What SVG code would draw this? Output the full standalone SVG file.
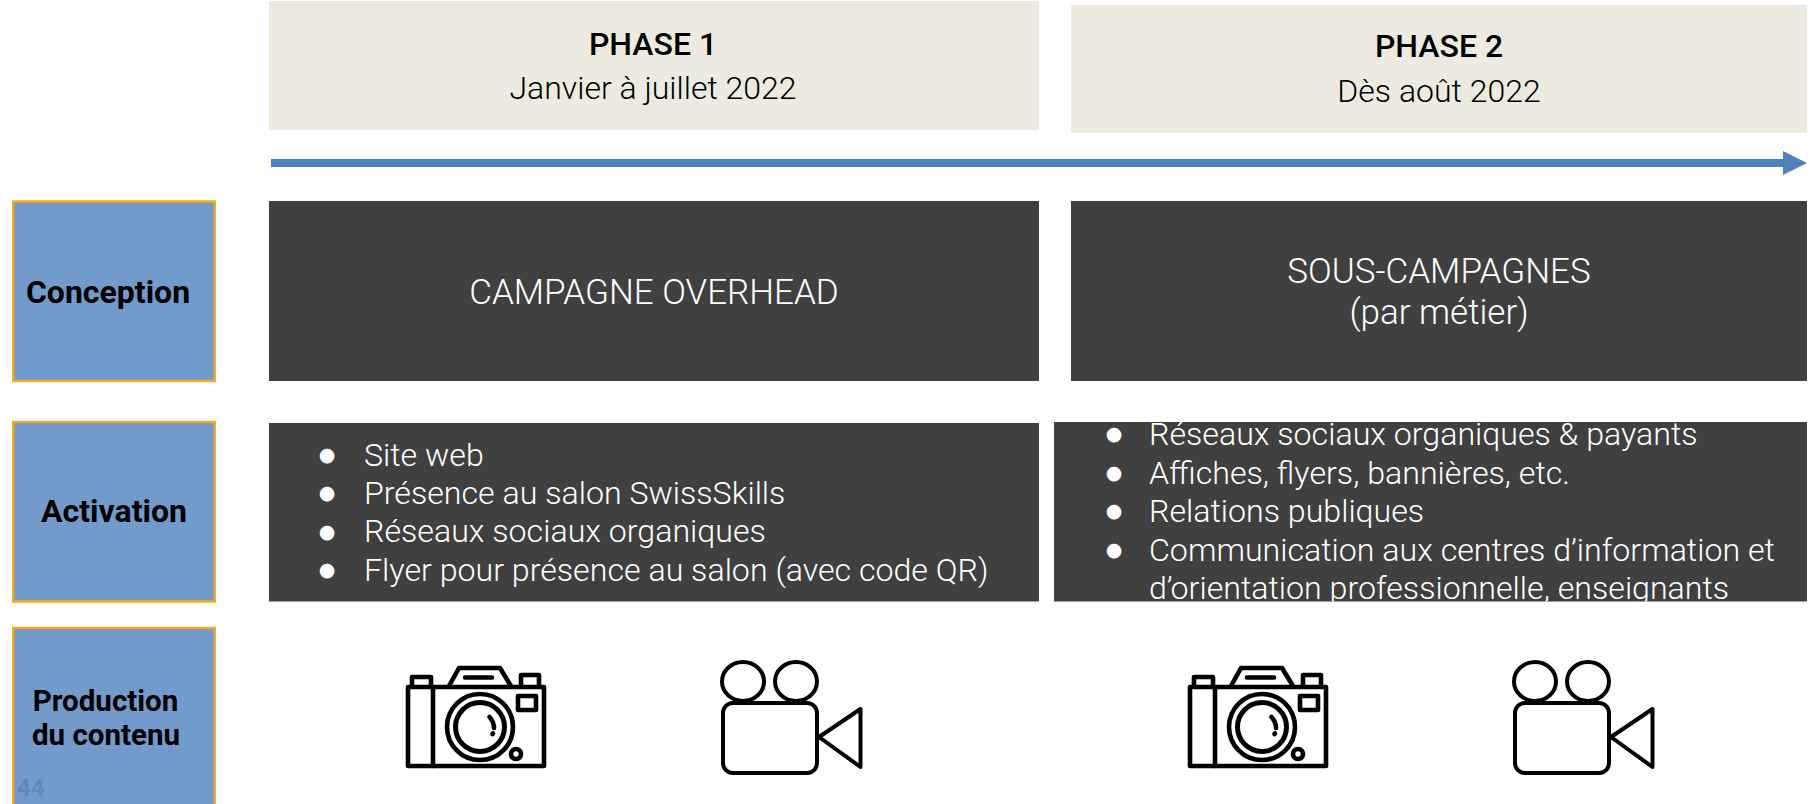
<svg xmlns="http://www.w3.org/2000/svg" xmlns:xlink="http://www.w3.org/1999/xlink" width="1813" height="804" viewBox="0 0 1813 804">
<style>
text{font-family:Roboto,"Liberation Sans",sans-serif}
.beige{fill:#edebe0}
.dark{fill:#404040}
.side{fill:#729acb;stroke:#f4ab1c;stroke-width:2.4}
.lbl{font-weight:700;font-size:32px;fill:#000}
.lbs{font-weight:700;font-size:29.5px;fill:#000}
.ph{font-size:32px;font-weight:500;fill:#000;text-anchor:middle}
.sub{font-size:32px;font-weight:300;fill:#000;text-anchor:middle}
.hd{font-size:35px;font-weight:300;fill:#fff;text-anchor:middle}
.li{font-size:32.150px;font-weight:300;fill:#fff}
.bu{font-family:"DejaVu Sans",sans-serif;font-size:19px;fill:#fff;text-anchor:middle}
.ic{fill:none;stroke:#000;stroke-width:4.6;stroke-linejoin:round;stroke-linecap:round}
.ic2{fill:none;stroke:#000;stroke-width:4;stroke-linejoin:round}
</style>
<defs>
<marker id="head" markerUnits="userSpaceOnUse" markerWidth="24" markerHeight="24" refX="0" refY="12" orient="auto"><path d="M0 0L24 12L0 24Z" fill="#4f81bd"/></marker>
<clipPath id="c1"><rect x="269" y="423" width="770" height="178.500"/></clipPath>
<clipPath id="c2"><rect x="1054" y="422" width="753" height="179.500"/></clipPath>
<g id="cam">
<rect class="ic" x="408" y="687" width="136" height="79"/>
<path class="ic" d="M433 687V766M412 686V677H431V686M521 686V675H539V686M449 686L459 668H500L511 686M465 677.500H492"/>
<rect class="ic" x="518" y="696" width="18" height="14"/>
<circle class="ic" cx="480" cy="727" r="33"/>
<circle class="ic" cx="480" cy="727" r="24.500" style="stroke-width:5"/>
<path class="ic" d="M489.500 717Q494 722 494 728"/>
<path class="ic" d="M493 733.500L492.500 734"/>
<circle class="ic" cx="516" cy="754" r="5"/>
</g>
<g id="vid">
<ellipse class="ic2" cx="743" cy="681.500" rx="21" ry="19.500"/>
<ellipse class="ic2" cx="796" cy="681.500" rx="21" ry="19.500"/>
<rect class="ic2" x="723" y="703" width="94" height="70" rx="10"/>
<path class="ic2" d="M819 737L860.500 709V767Z"/>
</g>
</defs>
<rect width="1813" height="804" fill="#fff"/>
<g id="phase1"><rect class="beige" x="269" y="1" width="770" height="129"/>
<text class="ph" x="653" y="55">PHASE 1</text><text class="sub" x="653" y="98.500">Janvier à juillet 2022</text></g>
<g id="phase2"><rect class="beige" x="1071" y="5" width="736" height="128"/>
<text class="ph" x="1439" y="57">PHASE 2</text><text class="sub" x="1439" y="102">Dès août 2022</text></g>
<g id="connectors"><line x1="271" y1="163" x2="1783" y2="163" stroke="#4f81bd" stroke-width="8" marker-end="url(#head)"/></g>
<g id="conception"><rect class="side" x="13.200" y="201.500" width="201.600" height="179.500"/><text class="lbl" x="108" y="303" text-anchor="middle">Conception</text></g>
<g id="activation"><rect class="side" x="13.200" y="422" width="201.600" height="179.500"/><text class="lbl" x="114" y="522" text-anchor="middle">Activation</text></g>
<g id="production"><rect class="side" x="13.200" y="628" width="201.600" height="178"/><text class="lbs" x="105.500" y="710.500" text-anchor="middle">Production</text><text class="lbs" x="106" y="745" text-anchor="middle">du contenu</text><text x="17" y="796" font-size="24" font-weight="700" fill="#5f8ab9">44</text></g>
<g id="campagne-overhead"><rect class="dark" x="269" y="201" width="770" height="180"/><text class="hd" x="654" y="304">CAMPAGNE OVERHEAD</text></g>
<g id="sous-campagnes"><rect class="dark" x="1071" y="201" width="736" height="180"/><text class="hd" x="1439" y="282.500">SOUS-CAMPAGNES</text><text class="hd" x="1439" y="324">(par métier)</text></g>
<g id="activation-1"><rect class="dark" x="269" y="423" width="770" height="178.500"/>
<g clip-path="url(#c1)">
<text class="bu" x="327" y="461">●</text><text class="li" x="364" y="465.500">Site web</text>
<text class="bu" x="327" y="499">●</text><text class="li" x="364" y="503.500">Présence au salon SwissSkills</text>
<text class="bu" x="327" y="538">●</text><text class="li" x="364" y="542">Réseaux sociaux organiques</text>
<text class="bu" x="327" y="576">●</text><text class="li" x="364" y="580.500">Flyer pour présence au salon (avec code QR)</text>
</g></g>
<g id="activation-2"><rect class="dark" x="1054" y="422" width="753" height="179.500"/>
<g clip-path="url(#c2)">
<text class="bu" x="1114" y="440">●</text><text class="li" x="1149" y="445">Réseaux sociaux organiques &amp; payants</text>
<text class="bu" x="1114" y="479">●</text><text class="li" x="1149" y="484">Affiches, flyers, bannières, etc.</text>
<text class="bu" x="1114" y="517">●</text><text class="li" x="1149" y="522">Relations publiques</text>
<text class="bu" x="1114" y="556">●</text><text class="li" x="1149" y="561">Communication aux centres d’information et</text>
<text class="li" x="1149" y="599">d’orientation professionnelle, enseignants</text>
</g></g>
<g id="photo-1"><use xlink:href="#cam"/></g>
<g id="video-1"><use xlink:href="#vid"/></g>
<g id="photo-2"><use xlink:href="#cam" x="782"/></g>
<g id="video-2"><use xlink:href="#vid" x="792"/></g>
</svg>
